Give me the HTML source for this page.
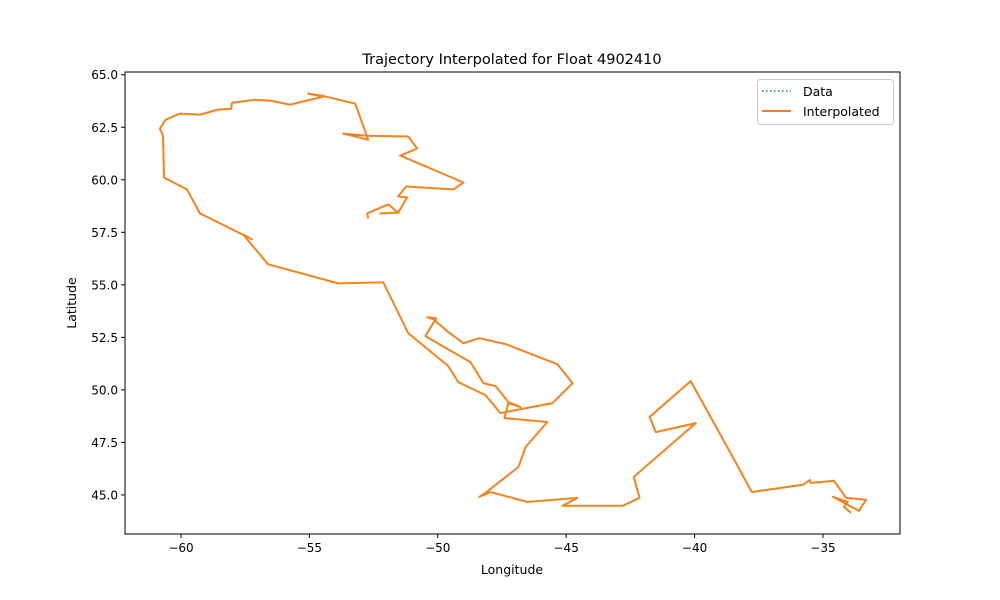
<!DOCTYPE html>
<html><head><meta charset="utf-8"><style>
body{margin:0;background:#fff;}
svg{display:block;font-family:"DejaVu Sans","Liberation Sans",sans-serif;}
</style></head><body>
<svg id="chart" width="1000" height="600" xmlns="http://www.w3.org/2000/svg">
<rect width="1000" height="600" fill="#fff"/>
<text x="512" y="64" text-anchor="middle" font-size="14.5">Trajectory Interpolated for Float 4902410</text>
<g id="marks"></g>
<rect x="125" y="72" width="775" height="462" fill="none" stroke="#000" stroke-width="1"/>
<g id="xticks"></g><g id="yticks"></g>
<text x="512" y="574" text-anchor="middle" font-size="12.5">Longitude</text>
<text transform="translate(76,303) rotate(-90)" text-anchor="middle" font-size="12.5">Latitude</text>
<g>
<rect x="757.5" y="79.5" width="136" height="45" rx="3" fill="#fff" stroke="#ccc"/>
<line x1="762" y1="91" x2="791" y2="91" stroke="#1f77b4" stroke-width="1.5" stroke-dasharray="1.5,2.5"/>
<text x="803" y="96" font-size="12.5">Data</text>
<line x1="762" y1="111" x2="791" y2="111" stroke="#ff7f0e" stroke-width="2"/>
<text x="803" y="116" font-size="12.5">Interpolated</text>
</g>
</svg>
<script>
const lons=[-52.71,-52.75,-51.93,-51.54,-52.24,-51.54,-51.19,-51.54,-51.23,-49.39,-49.00,-51.46,-50.80,-51.15,-52.75,-53.68,-52.71,-53.21,-54.50,-55.05,-54.46,-55.75,-56.53,-57.11,-58.01,-58.05,-58.56,-59.26,-60.04,-60.59,-60.82,-60.70,-60.66,-59.77,-59.26,-57.62,-57.23,-57.58,-56.61,-53.88,-52.12,-51.15,-49.59,-49.20,-48.14,-47.56,-45.53,-44.75,-45.34,-47.36,-48.38,-49.00,-49.63,-50.17,-50.41,-50.06,-50.48,-48.73,-48.22,-47.75,-47.25,-46.78,-47.25,-47.40,-45.73,-46.58,-46.86,-48.14,-48.38,-47.95,-46.51,-44.56,-45.14,-42.80,-42.14,-42.37,-39.95,-41.51,-41.75,-40.15,-38.71,-37.77,-35.78,-35.51,-35.47,-34.57,-34.10,-33.32,-33.60,-34.61,-34.03,-34.18,-33.91];
const lats=[58.16,58.40,58.83,58.44,58.40,58.44,59.16,59.21,59.68,59.54,59.87,61.15,61.49,62.06,62.10,62.20,61.91,63.62,64.00,64.10,63.96,63.58,63.77,63.81,63.67,63.38,63.34,63.10,63.15,62.86,62.44,62.10,60.11,59.54,58.40,57.40,57.16,57.40,55.98,55.07,55.12,52.70,51.13,50.37,49.75,48.90,49.37,50.32,51.22,52.18,52.46,52.22,52.79,53.36,53.46,53.41,52.56,51.32,50.32,50.18,49.42,49.18,49.37,48.66,48.47,47.28,46.33,45.10,44.91,45.14,44.67,44.86,44.48,44.48,44.86,45.86,48.42,47.99,48.71,50.42,47.24,45.14,45.48,45.71,45.57,45.67,44.86,44.77,44.24,44.91,44.67,44.43,44.15];
const xTicks=[-60,-55,-50,-45,-40,-35];
const yTicks=[45,47.5,50,52.5,55,57.5,60,62.5,65];
const X0=125,X1=900,Y0=72,Y1=534,XMIN=-62.18,XMAX=-32.0,YMIN=43.14,YMAX=65.13;
function sx(v){return X0+(v-XMIN)/(XMAX-XMIN)*(X1-X0);}
function sy(v){return Y1-(v-YMIN)/(YMAX-YMIN)*(Y1-Y0);}
const NS='http://www.w3.org/2000/svg';
const marks=document.getElementById('marks');
const pts=lons.map((v,i)=>sx(v).toFixed(1)+','+sy(lats[i]).toFixed(1)).join(' ');
const d=document.createElementNS(NS,'polyline');
d.setAttribute('points',pts);d.setAttribute('fill','none');d.setAttribute('stroke','#1f77b4');d.setAttribute('stroke-width','1.5');d.setAttribute('stroke-dasharray','1.5,2.5');


marks.appendChild(d);
const p=document.createElementNS(NS,'polyline');
p.setAttribute('points',pts);p.setAttribute('fill','none');p.setAttribute('stroke','#f5841f');p.setAttribute('stroke-width','2');p.setAttribute('stroke-linejoin','round');


marks.appendChild(p);
const xg=document.getElementById('xticks');
xTicks.forEach(t=>{const x=sx(t);
const l=document.createElementNS(NS,'line');l.setAttribute('x1',x);l.setAttribute('x2',x);l.setAttribute('y1',Y1);l.setAttribute('y2',Y1+4);l.setAttribute('stroke','#000');


xg.appendChild(l);
const tx=document.createElementNS(NS,'text');tx.setAttribute('x',x);tx.setAttribute('y',Y1+18);tx.setAttribute('text-anchor','middle');tx.setAttribute('font-size','12');tx.textContent='\u2212'+Math.abs(t);


xg.appendChild(tx);});
const yg=document.getElementById('yticks');
yTicks.forEach(t=>{const y=sy(t);
const l=document.createElementNS(NS,'line');l.setAttribute('x1',X0-4);l.setAttribute('x2',X0);l.setAttribute('y1',y);l.setAttribute('y2',y);l.setAttribute('stroke','#000');


yg.appendChild(l);
const tx=document.createElementNS(NS,'text');tx.setAttribute('x',X0-7);tx.setAttribute('y',y+4.5);tx.setAttribute('text-anchor','end');tx.setAttribute('font-size','12');tx.textContent=t.toFixed(1);


yg.appendChild(tx);});
</script>
</body></html>
